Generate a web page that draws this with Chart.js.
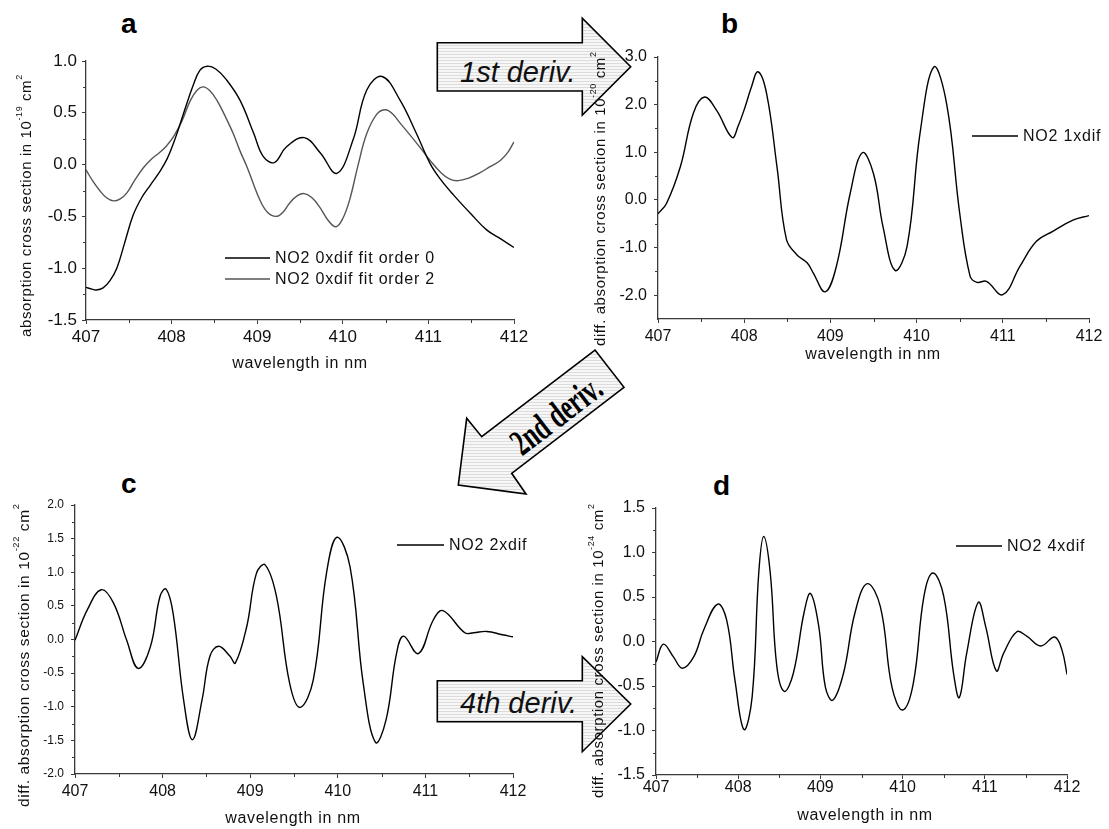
<!DOCTYPE html>
<html>
<head>
<meta charset="utf-8">
<title>NO2 absorption cross section and its derivatives</title>
<script src="https://cdn.jsdelivr.net/npm/chart.js@4.4.1/dist/chart.umd.min.js"></script>
<style>
  html, body { margin: 0; padding: 0; background: #ffffff; }
  #stage { position: relative; width: 1109px; height: 829px; overflow: hidden; background: #ffffff; }
  #stage svg, #stage canvas { position: absolute; left: 0; top: 0; }
</style>
</head>
<body>
<div id="stage">
  <svg id="deco" width="1109" height="829" xmlns="http://www.w3.org/2000/svg">
    <defs>
      <pattern id="stripes" width="8" height="3" patternUnits="userSpaceOnUse">
        <rect width="8" height="3" fill="#f7f7f7"/>
        <rect width="8" height="1" fill="#dcdcdc"/>
      </pattern>
    </defs>
    <!-- panel letters -->
    <g font-family="'Liberation Sans', Arial, sans-serif" font-weight="bold" font-size="28" fill="#000">
      <text x="121" y="33">a</text>
      <text x="721" y="33">b</text>
      <text x="121" y="493">c</text>
      <text x="713" y="495">d</text>
    </g>
    <!-- derivative arrows -->
    <g stroke="#000" stroke-width="1.6" stroke-linejoin="miter" fill="url(#stripes)">
      <polygon points="437.3,42.7 582.3,42.7 582.3,18.3 630.7,66.7 582.3,115 582.3,91 437.3,91"/>
      <polygon points="595,350 624,387.3 511.7,473.3 526,494 458.3,485 466.7,418.3 481.7,436.7"/>
      <polygon points="437.3,680.7 582.3,680.7 582.3,656.7 630.7,704 582.3,751.7 582.3,721.7 437.3,721.7"/>
    </g>
    <g font-family="'Liberation Sans', Arial, sans-serif" font-style="italic" font-size="29" fill="#111">
      <text x="460" y="81.5">1st deriv.</text>
      <text x="460" y="712.5">4th deriv.</text>
    </g>
    <text transform="translate(556,415) rotate(-37.4) scale(0.66,1)" text-anchor="middle" dominant-baseline="central"
          font-family="'Liberation Serif', 'Times New Roman', serif" font-weight="bold" font-size="37" fill="#000">2nd deriv.</text>
  </svg>
  <canvas id="panelA" width="1109" height="829"></canvas>
  <canvas id="panelB" width="1109" height="829"></canvas>
  <canvas id="panelC" width="1109" height="829"></canvas>
  <canvas id="panelD" width="1109" height="829"></canvas>
</div>

<script>
// ---------------- data ----------------
const wavelengthTicks = [407, 408, 409, 410, 411, 412];

// a: absorption cross section (1e-19 cm^2), fit order 0
const nmOrder0 = [407.00, 407.06, 407.12, 407.20, 407.28, 407.36, 407.45, 407.55, 407.65, 407.75, 407.86, 407.95,
  408.05, 408.15, 408.25, 408.33, 408.42, 408.52, 408.64, 408.80, 408.96, 409.07, 409.20, 409.34,
  409.55, 409.74, 409.93, 410.12, 410.28, 410.46, 410.67, 410.86, 411.02, 411.14, 411.29, 411.49,
  411.68, 411.85, 412.00];
const xsOrder0 = [-1.185, -1.20, -1.21, -1.19, -1.12, -1.00, -0.76, -0.49, -0.32, -0.20, -0.07, 0.06,
  0.27, 0.52, 0.76, 0.91, 0.95, 0.92, 0.82, 0.62, 0.30, 0.08, 0.02, 0.17,
  0.26, 0.11, -0.085, 0.24, 0.72, 0.85, 0.62, 0.30, 0.01, -0.14, -0.29, -0.47,
  -0.63, -0.72, -0.80];

// a: absorption cross section (1e-19 cm^2), fit order 2
const nmOrder2 = [407.00, 407.08, 407.16, 407.24, 407.32, 407.40, 407.48, 407.57, 407.67, 407.76, 407.85, 407.94,
  408.03, 408.12, 408.22, 408.30, 408.37, 408.45, 408.53, 408.63, 408.72, 408.80, 408.88, 409.03,
  409.12, 409.22, 409.30, 409.38, 409.47, 409.55, 409.64, 409.73, 409.83, 409.92, 410.00, 410.08,
  410.18, 410.28, 410.40, 410.50, 410.58, 410.67, 410.86, 411.02, 411.15, 411.25, 411.35, 411.47,
  411.60, 411.72, 411.84, 411.93, 412.00];
const xsOrder2 = [-0.05, -0.16, -0.25, -0.32, -0.35, -0.33, -0.27, -0.15, -0.03, 0.05, 0.11, 0.18,
  0.28, 0.42, 0.62, 0.72, 0.75, 0.71, 0.62, 0.46, 0.30, 0.13, -0.02, -0.34,
  -0.46, -0.50, -0.46, -0.37, -0.30, -0.28, -0.32, -0.41, -0.54, -0.60, -0.52, -0.34,
  0.00, 0.30, 0.49, 0.53, 0.49, 0.40, 0.21, 0.04, -0.08, -0.14, -0.155, -0.13,
  -0.08, -0.02, 0.04, 0.12, 0.22];

// b: first derivative (1e-20 cm^2)
const nmDif1 = [407.00, 407.10, 407.26, 407.41, 407.54, 407.68, 407.86, 407.93, 408.01, 408.08, 408.16, 408.26,
  408.38, 408.49, 408.61, 408.73, 408.80, 408.94, 409.07, 409.23, 409.37, 409.50, 409.61, 409.75,
  409.89, 410.04, 410.20, 410.35, 410.50, 410.62, 410.70, 410.81, 411.00, 411.20, 411.39, 411.58,
  411.82, 412.00];
const xsDif1 = [-0.29, -0.07, 0.70, 1.82, 2.16, 1.88, 1.31, 1.55, 1.95, 2.35, 2.69, 2.23,
  0.70, -0.83, -1.15, -1.32, -1.53, -1.93, -1.39, 0.14, 0.99, 0.55, -0.56, -1.48,
  -0.97, 1.40, 2.79, 2.00, -0.28, -1.60, -1.73, -1.71, -1.99, -1.39, -0.87, -0.66,
  -0.42, -0.33];

// c: second derivative (1e-22 cm^2)
const nmDif2 = [407.00, 407.14, 407.30, 407.44, 407.59, 407.72, 407.86, 407.97, 408.04, 408.12, 408.24, 408.34,
  408.45, 408.54, 408.64, 408.77, 408.83, 408.96, 409.07, 409.17, 409.30, 409.45, 409.57, 409.72,
  409.87, 409.99, 410.14, 410.29, 410.43, 410.55, 410.67, 410.75, 410.92, 411.09, 411.20, 411.45,
  411.55, 411.70, 411.88, 412.00];
const xsDif2 = [-0.01, 0.44, 0.74, 0.54, -0.01, -0.43, -0.11, 0.64, 0.75, 0.39, -0.90, -1.49,
  -0.90, -0.25, -0.10, -0.25, -0.35, 0.19, 0.98, 1.11, 0.64, -0.65, -1.01, -0.60,
  0.98, 1.52, 1.08, -0.65, -1.53, -1.20, -0.21, 0.05, -0.21, 0.29, 0.43, 0.10,
  0.10, 0.12, 0.07, 0.04];

// d: fourth derivative (1e-24 cm^2)
const nmDif4 = [407.00, 407.09, 407.21, 407.32, 407.46, 407.58, 407.75, 407.86, 407.96, 408.07, 408.17, 408.25,
  408.31, 408.39, 408.47, 408.56, 408.67, 408.80, 408.88, 408.98, 409.06, 409.15, 409.28, 409.42,
  409.57, 409.73, 409.87, 410.00, 410.13, 410.26, 410.37, 410.50, 410.62, 410.69, 410.78, 410.92,
  411.01, 411.14, 411.23, 411.39, 411.51, 411.68, 411.85, 411.94, 412.00];
const xsDif4 = [-0.23, -0.03, -0.17, -0.30, -0.17, 0.13, 0.42, 0.24, -0.43, -0.99, -0.62, 0.77,
  1.18, 0.77, -0.28, -0.56, -0.36, 0.32, 0.54, 0.17, -0.51, -0.66, -0.36, 0.32,
  0.65, 0.39, -0.51, -0.77, -0.47, 0.51, 0.77, 0.51, -0.36, -0.63, -0.13, 0.44,
  0.17, -0.33, -0.13, 0.11, 0.06, -0.05, 0.05, -0.10, -0.37];

// ---------------- styling ----------------
const FONT = "'Liberation Sans', Arial, Helvetica, sans-serif";
const AXIS = '#3a3a3a';
const TEXT = '#111111';
const BLACK = '#000000';
const GRAY = '#555555';

// Draws minor ticks, axis titles (with superscripts) and an inline legend.
const panelDeco = {
  id: 'panelDeco',
  afterDraw(chart, args, o) {
    const { ctx, chartArea } = chart;
    const xs = chart.scales.x, ys = chart.scales.y;
    ctx.save();
    // minor ticks
    ctx.strokeStyle = AXIS;
    ctx.lineWidth = 1;
    ctx.beginPath();
    const nx = Math.round((xs.max - xs.min) / o.xMinor);
    for (let i = 1; i < nx; i++) {
      const v = xs.min + i * o.xMinor;
      if (Math.abs(v / o.xMajor - Math.round(v / o.xMajor)) < 1e-6) continue;
      const px = Math.round(xs.getPixelForValue(v)) + 0.5;
      ctx.moveTo(px, chartArea.bottom);
      ctx.lineTo(px, chartArea.bottom + o.minorLen);
    }
    const ny = Math.round((ys.max - ys.min) / o.yMinor);
    for (let i = 1; i < ny; i++) {
      const v = ys.min + i * o.yMinor;
      if (Math.abs(v / o.yMajor - Math.round(v / o.yMajor)) < 1e-6) continue;
      const py = Math.round(ys.getPixelForValue(v)) + 0.5;
      ctx.moveTo(chartArea.left, py);
      ctx.lineTo(chartArea.left - o.minorLen, py);
    }
    ctx.stroke();

    // x title
    ctx.fillStyle = TEXT;
    ctx.font = `${o.xTitle.size}px ${FONT}`;
    ctx.letterSpacing = o.xTitle.spacing + 'px';
    ctx.textAlign = 'center';
    ctx.textBaseline = 'middle';
    ctx.fillText(o.xTitle.text, o.xTitle.x, o.xTitle.y);

    // y title, read bottom to top
    const t = o.yTitle;
    ctx.save();
    ctx.translate(t.x, t.y);
    ctx.rotate(-Math.PI / 2);
    ctx.textAlign = 'left';
    ctx.textBaseline = 'alphabetic';
    ctx.letterSpacing = t.spacing + 'px';
    let pos = 0;
    for (const part of t.parts) {
      const size = part.sup ? t.size * 0.6 : t.size;
      ctx.font = `${size}px ${FONT}`;
      ctx.fillText(part.text, pos, part.sup ? -t.size * 0.62 : 0);
      pos += ctx.measureText(part.text).width;
    }
    ctx.restore();

    // legend
    for (const item of o.legend) {
      ctx.strokeStyle = item.color;
      ctx.lineWidth = 1.4;
      ctx.beginPath();
      ctx.moveTo(item.x1, item.y);
      ctx.lineTo(item.x2, item.y);
      ctx.stroke();
      ctx.fillStyle = TEXT;
      ctx.font = `${o.legendSize}px ${FONT}`;
      ctx.letterSpacing = o.legendSpacing + 'px';
      ctx.textAlign = 'left';
      ctx.textBaseline = 'middle';
      ctx.fillText(item.label, item.x2 + 5, item.y + 1);
    }
    ctx.restore();
  }
};

function makePanel(id, p) {
  const datasets = p.series.map(s => ({
    label: s.label,
    data: s.nm.map((w, i) => ({ x: w, y: s.values[i] })),
    borderColor: s.color,
    borderWidth: 1.4,
    pointRadius: 0,
    fill: false,
    tension: 0.4
  }));
  const axisGrid = { drawOnChartArea: false, drawTicks: true, tickLength: 4, color: AXIS, lineWidth: 1 };
  return new Chart(document.getElementById(id), {
    type: 'line',
    data: { datasets },
    options: {
      responsive: false,
      animation: false,
      devicePixelRatio: 1,
      events: [],
      layout: {
        padding: {
          left: p.area.left - p.yAxisWidth,
          top: p.area.top,
          right: 1109 - p.area.right,
          bottom: 829 - p.area.bottom - p.xAxisHeight
        }
      },
      plugins: {
        legend: { display: false },
        tooltip: { enabled: false },
        panelDeco: p.deco
      },
      scales: {
        x: {
          type: 'linear',
          min: wavelengthTicks[0],
          max: wavelengthTicks[wavelengthTicks.length - 1],
          afterFit(s) { s.height = p.xAxisHeight; },
          afterBuildTicks(s) { s.ticks = wavelengthTicks.map(v => ({ value: v })); },
          ticks: {
            callback: v => v.toFixed(0),
            font: { family: FONT, size: p.xTickSize },
            color: TEXT,
            padding: p.xTickPad,
            maxRotation: 0,
            autoSkip: false
          },
          grid: axisGrid,
          border: { display: true, color: AXIS, width: 1.3 }
        },
        y: {
          type: 'linear',
          min: p.yRange[0],
          max: p.yRange[1],
          afterFit(s) { s.width = p.yAxisWidth; },
          afterBuildTicks(s) { s.ticks = p.yTicks.map(v => ({ value: v })); },
          ticks: {
            callback: v => v.toFixed(1),
            font: { family: FONT, size: p.yTickSize },
            color: TEXT,
            padding: p.yTickPad,
            autoSkip: false
          },
          grid: axisGrid,
          border: { display: true, color: AXIS, width: 1.3 }
        }
      }
    },
    plugins: [panelDeco]
  });
}

const xTitleText = 'wavelength in nm';
function yParts(prefix, exp) {
  return [{ text: prefix + 'absorption cross section in 10' }, { text: exp, sup: true }, { text: ' cm' }, { text: '2', sup: true }];
}

makePanel('panelA', {
  area: { left: 86, right: 514, top: 61, bottom: 320 },
  yAxisWidth: 80, xAxisHeight: 60,
  yRange: [-1.5, 1.0],
  yTicks: [-1.5, -1.0, -0.5, 0.0, 0.5, 1.0],
  xTickSize: 17, yTickSize: 17, xTickPad: 3, yTickPad: 5,
  series: [
    { label: 'NO2 0xdif fit order 0', nm: nmOrder0, values: xsOrder0, color: BLACK },
    { label: 'NO2 0xdif fit order 2', nm: nmOrder2, values: xsOrder2, color: GRAY }
  ],
  deco: {
    xMajor: 1, xMinor: 0.5, yMajor: 0.5, yMinor: 0.25, minorLen: 3,
    xTitle: { text: xTitleText, x: 300, y: 364, size: 16, spacing: 0.7 },
    yTitle: { parts: yParts('', '-19'), x: 31, y: 337, size: 15, spacing: 0.6 },
    legendSize: 16, legendSpacing: 0.8,
    legend: [
      { label: 'NO2 0xdif fit order 0', color: BLACK, x1: 225, x2: 270, y: 258 },
      { label: 'NO2 0xdif fit order 2', color: GRAY, x1: 225, x2: 270, y: 279 }
    ]
  }
});

makePanel('panelB', {
  area: { left: 658, right: 1089, top: 57, bottom: 319 },
  yAxisWidth: 70, xAxisHeight: 60,
  yRange: [-2.5, 3.0],
  yTicks: [-2.0, -1.0, 0.0, 1.0, 2.0, 3.0],
  xTickSize: 16, yTickSize: 16, xTickPad: 4, yTickPad: 7,
  series: [{ label: 'NO2 1xdif', nm: nmDif1, values: xsDif1, color: BLACK }],
  deco: {
    xMajor: 1, xMinor: 0.5, yMajor: 1, yMinor: 0.5, minorLen: 3,
    xTitle: { text: xTitleText, x: 873, y: 355, size: 16, spacing: 0.7 },
    yTitle: { parts: yParts('diff. ', '-20'), x: 605, y: 346, size: 15, spacing: 0.6 },
    legendSize: 16, legendSpacing: 0.8,
    legend: [{ label: 'NO2 1xdif', color: BLACK, x1: 972, x2: 1018, y: 136 }]
  }
});

makePanel('panelC', {
  area: { left: 75, right: 513, top: 505, bottom: 774 },
  yAxisWidth: 70, xAxisHeight: 55,
  yRange: [-2.0, 2.0],
  yTicks: [-2.0, -1.5, -1.0, -0.5, 0.0, 0.5, 1.0, 1.5, 2.0],
  xTickSize: 16, yTickSize: 12, xTickPad: 4, yTickPad: 7,
  series: [{ label: 'NO2 2xdif', nm: nmDif2, values: xsDif2, color: BLACK }],
  deco: {
    xMajor: 1, xMinor: 0.5, yMajor: 0.5, yMinor: 0.25, minorLen: 3,
    xTitle: { text: xTitleText, x: 293, y: 819, size: 16, spacing: 0.7 },
    yTitle: { parts: yParts('diff. ', '-22'), x: 29, y: 807, size: 15.5, spacing: 0.6 },
    legendSize: 16, legendSpacing: 0.8,
    legend: [{ label: 'NO2 2xdif', color: BLACK, x1: 397, x2: 444, y: 545 }]
  }
});

makePanel('panelD', {
  area: { left: 656, right: 1067, top: 508, bottom: 775 },
  yAxisWidth: 70, xAxisHeight: 54,
  yRange: [-1.5, 1.5],
  yTicks: [-1.5, -1.0, -0.5, 0.0, 0.5, 1.0, 1.5],
  xTickSize: 16, yTickSize: 16, xTickPad: -1, yTickPad: 7,
  series: [{ label: 'NO2 4xdif', nm: nmDif4, values: xsDif4, color: BLACK }],
  deco: {
    xMajor: 1, xMinor: 0.5, yMajor: 0.5, yMinor: 0.25, minorLen: 3,
    xTitle: { text: xTitleText, x: 865, y: 816, size: 16, spacing: 0.7 },
    yTitle: { parts: yParts('diff. ', '-24'), x: 603, y: 798, size: 15, spacing: 0.6 },
    legendSize: 16, legendSpacing: 0.8,
    legend: [{ label: 'NO2 4xdif', color: BLACK, x1: 956, x2: 1002, y: 546 }]
  }
});
</script>
</body>
</html>
